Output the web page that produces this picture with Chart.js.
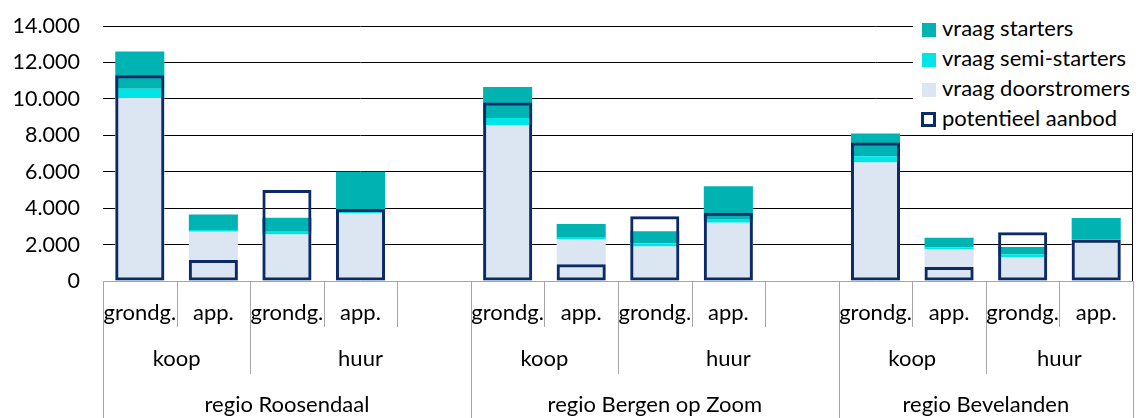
<!DOCTYPE html>
<html>
<head>
<meta charset="utf-8">
<script src="https://cdn.jsdelivr.net/npm/chart.js@4.4.0/dist/chart.umd.min.js"></script>
<style>
  html, body { margin: 0; padding: 0; background: #fff; }
  #wrap { position: relative; width: 1142px; height: 418px; }
  #legend { position: absolute; left: 913px; top: 0; width: 229px; height: 133px; background: #fff;
            font-family: Lato, sans-serif; font-size: 22px; color: #000; }
  #legend .item { position: absolute; left: 9px; height: 30px; line-height: 30px; white-space: nowrap; }
  #legend .sw { display: inline-block; width: 14px; height: 14px; margin-right: 6px; vertical-align: -1px; box-sizing: border-box; }
</style>
</head>
<body>
<div id="wrap">
  <canvas id="chart" width="1142" height="418"></canvas>
  <div id="legend"></div>
</div>
<script>
// slots on the x axis (empty slot between regions)
const slotLabels = ['grondg.', 'app.', 'grondg.', 'app.', '',
                    'grondg.', 'app.', 'grondg.', 'app.', '',
                    'grondg.', 'app.', 'grondg.', 'app.'];
const typeLabels = ['koop', 'huur', 'koop', 'huur', 'koop', 'huur'];
const typeSpans = [2, 3, 2, 3, 2, 2];
const regionLabels = ['regio Roosendaal', 'regio Bergen op Zoom', 'regio Bevelanden'];
const regionSpans = [5, 5, 4];

const doorstromers = [10050, 2700, 2550, 3700, null, 8550, 2280, 1900, 3200, null, 6500, 1750, 1320, 2200];
const semiStarters = [500, 100, 200, 250, null, 400, 100, 170, 200, null, 350, 100, 150, 60];
const starters     = [2050, 850, 720, 2050, null, 1700, 750, 660, 1800, null, 1250, 520, 400, 1200];
const aanbod       = [11300, 1150, 5000, 3950, null, 9800, 920, 3550, 3750, null, 7600, 770, 2680, 2270];

const fmt = v => String(v).replace(/\B(?=(\d{3})+(?!\d))/g, '.');
const FONT = 'Lato, sans-serif';

// legend (top right, over the grid)
const legendItems = [
  { text: 'vraag starters', fill: '#00b3b3' },
  { text: 'vraag semi-starters', fill: '#00e6e6' },
  { text: 'vraag doorstromers', fill: '#dce6f2' },
  { text: 'potentieel aanbod', border: '#0b2a66' }
];
const legend = document.getElementById('legend');
legendItems.forEach(function(it, i) {
  const row = document.createElement('div');
  row.className = 'item';
  row.style.top = (13 + i * 30) + 'px';
  const sw = document.createElement('span');
  sw.className = 'sw';
  if (it.border) {
    sw.style.border = '3px solid ' + it.border;
    sw.style.width = '15px'; sw.style.height = '15px';
    sw.style.marginLeft = '-1px';
  } else {
    sw.style.background = it.fill;
  }
  row.appendChild(sw);
  row.appendChild(document.createTextNode(it.text));
  legend.appendChild(row);
});

function cumulative(spans) {
  const out = new Set([0]);
  let s = 0;
  spans.forEach(function(n) { s += n; out.add(s); });
  return out;
}

// multi-level category axis drawn under the plot
const axisRows = {
  id: 'axisRows',
  afterDraw(chart) {
    const { ctx, chartArea: a, scales: { x } } = chart;
    const n = slotLabels.length;
    const w = (x.right - x.left) / n;
    const edge = i => Math.round(x.left + i * w) + 0.5;
    const typeEdges = cumulative(typeSpans);
    const regionEdges = cumulative(regionSpans);
    ctx.save();
    // right border of plot
    ctx.strokeStyle = '#000';
    ctx.lineWidth = 1;
    ctx.beginPath();
    ctx.moveTo(Math.round(a.right) - 0.5, a.top);
    ctx.lineTo(Math.round(a.right) - 0.5, a.bottom);
    ctx.stroke();
    // separators
    ctx.strokeStyle = '#a6a6a6';
    for (let i = 0; i <= n; i++) {
      let end = a.bottom + 46;
      if (regionEdges.has(i)) end = chart.height;
      else if (typeEdges.has(i)) end = a.bottom + 93;
      ctx.beginPath();
      ctx.moveTo(edge(i), a.bottom);
      ctx.lineTo(edge(i), end);
      ctx.stroke();
    }
    ctx.fillStyle = '#000';
    ctx.font = '22px ' + FONT;
    ctx.textAlign = 'center';
    ctx.textBaseline = 'middle';
    slotLabels.forEach(function(l, i) {
      ctx.fillText(l, x.getPixelForValue(i), a.bottom + 32);
    });
    let s = 0;
    typeLabels.forEach(function(l, i) {
      ctx.fillText(l, x.left + (s + typeSpans[i] / 2) * w, a.bottom + 78);
      s += typeSpans[i];
    });
    s = 0;
    regionLabels.forEach(function(l, i) {
      ctx.fillText(l, x.left + (s + regionSpans[i] / 2) * w, a.bottom + 124);
      s += regionSpans[i];
    });
    ctx.restore();
  }
};

new Chart(document.getElementById('chart'), {
  type: 'bar',
  data: {
    labels: slotLabels,
    datasets: [
      { label: 'vraag doorstromers', data: doorstromers, backgroundColor: '#dce6f2', stack: 'vraag', order: 1 },
      { label: 'vraag semi-starters', data: semiStarters, backgroundColor: '#00e6e6', stack: 'vraag', order: 1 },
      { label: 'vraag starters', data: starters, backgroundColor: '#00b3b3', stack: 'vraag', order: 1 },
      { label: 'potentieel aanbod', data: aanbod, stack: 'aanbod', grouped: false, backgroundColor: 'rgba(0,0,0,0)',
        borderColor: '#0b2a66', borderWidth: 3, borderSkipped: false, order: 0 }
    ]
  },
  options: {
    responsive: false,
    animation: false,
    layout: { padding: { top: 26, right: 9, left: 0, bottom: 0 } },
    datasets: { bar: { categoryPercentage: 1, barPercentage: 0.667 } },
    plugins: { legend: { display: false }, tooltip: { enabled: false } },
    scales: {
      x: {
        offset: true,
        grid: { display: false },
        border: { display: true, color: '#a6a6a6', width: 1 },
        ticks: { display: false },
        afterFit: function(s) { s.height = 137; }
      },
      y: {
        stacked: true,
        min: 0,
        max: 14000,
        ticks: { stepSize: 2000, padding: 0, color: '#000', font: { family: FONT, size: 21.5 }, callback: fmt },
        grid: {
          color: c => c.tick.value === 0 ? 'rgba(0,0,0,0)' : '#000',
          drawTicks: true, tickLength: 23, tickColor: 'rgba(0,0,0,0)'
        },
        border: { display: false },
        afterFit: function(s) { s.width = 103; }
      }
    }
  },
  plugins: [axisRows]
});
</script>
</body>
</html>
